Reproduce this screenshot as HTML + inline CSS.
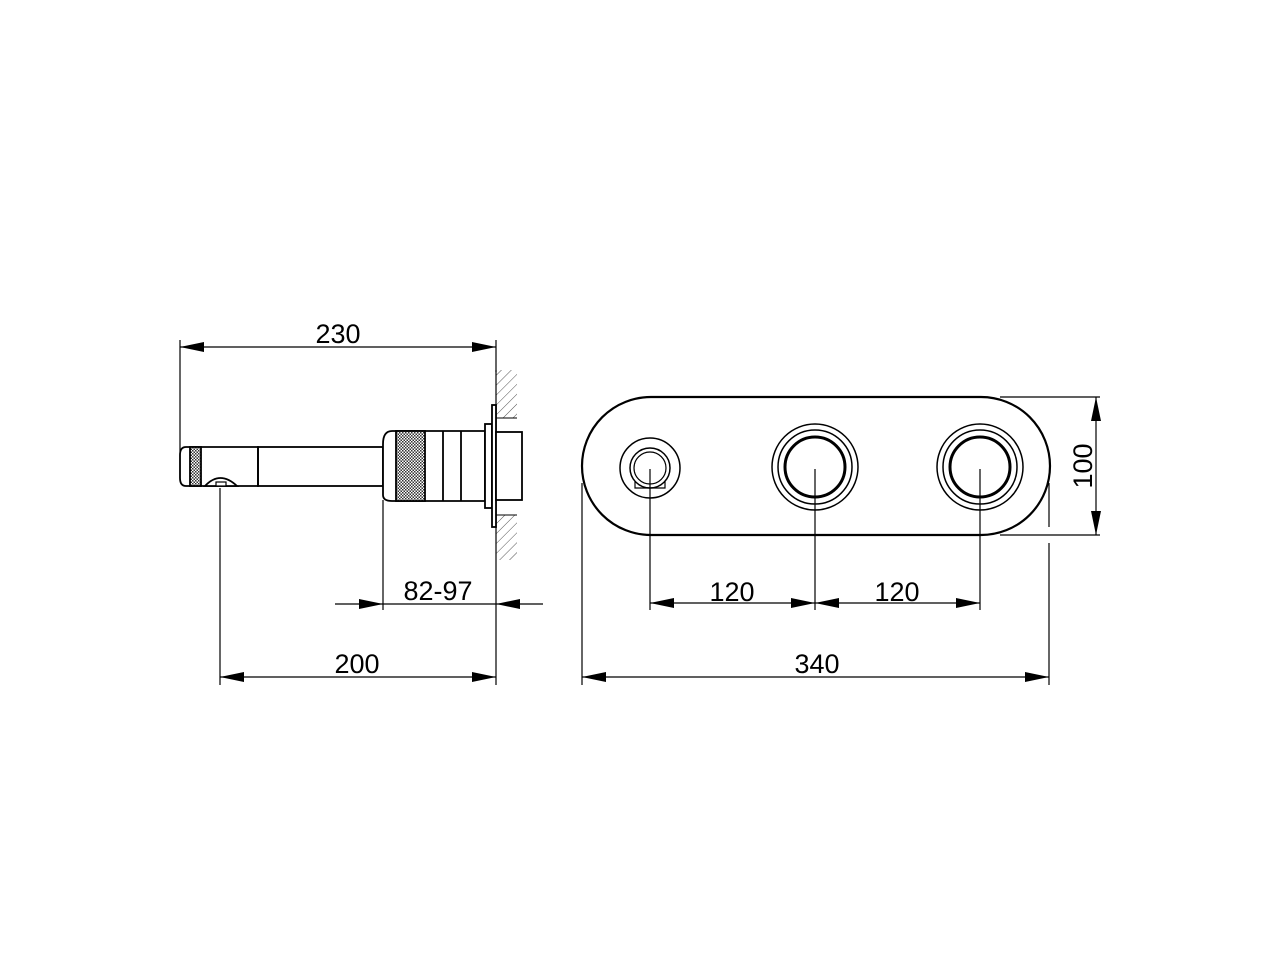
<!DOCTYPE html>
<html><head><style>body{margin:0;background:#fff}svg{display:block}</style></head><body>
<svg width="1280" height="960" viewBox="0 0 1280 960" xmlns="http://www.w3.org/2000/svg">
<defs>
<pattern id="knurl" width="3" height="3" patternUnits="userSpaceOnUse"><rect width="3" height="3" fill="#fff"/><rect width="1.5" height="1.5" fill="#333"/><rect x="1.5" y="1.5" width="1.5" height="1.5" fill="#333"/></pattern>
<pattern id="hatch" width="7" height="7" patternUnits="userSpaceOnUse" patternTransform="rotate(45)"><line x1="0" y1="0" x2="0" y2="7" stroke="#555" stroke-width="1"/></pattern>
</defs>
<g font-family="Liberation Sans, sans-serif" font-size="27" fill="#000">
<!-- left view -->
<g stroke="#000" fill="none">
<rect x="496" y="370" width="21" height="48" fill="url(#hatch)" stroke="none"/>
<rect x="496" y="515" width="21" height="45" fill="url(#hatch)" stroke="none"/>
<line x1="496" y1="370" x2="496" y2="560" stroke-width="1.2"/>
<line x1="496" y1="418" x2="517" y2="418" stroke-width="1"/>
<line x1="496" y1="515" x2="517" y2="515" stroke-width="1"/>
<g stroke-width="1.8">
<path d="M186,447 L258,447 L258,486 L186,486 Q180,486 180,478 L180,455 Q180,447 186,447Z"/>
<rect x="190" y="447" width="11" height="39" fill="url(#knurl)"/>
<path d="M205,486 Q220,470 237,486Z" fill="#fff"/>
<rect x="216" y="482" width="10" height="4" fill="#fff" stroke-width="1.2"/>
<rect x="258" y="447" width="125" height="39"/>
<path d="M383,444 L383,495 Q383,501 392,501 L485,501 L485,431 L392,431 Q383,431 383,444Z" fill="#fff"/>
<rect x="396" y="431" width="29" height="70" fill="url(#knurl)"/>
<line x1="443" y1="431" x2="443" y2="501"/>
<line x1="461" y1="431" x2="461" y2="501"/>
<rect x="485" y="424" width="7" height="84" fill="#fff"/>
<rect x="492" y="405" width="4" height="122" fill="#fff"/>
<rect x="496" y="432" width="26" height="68" fill="#fff"/>
</g>
<g stroke-width="1.2">
<line x1="180" y1="340" x2="180" y2="452"/>
<line x1="496" y1="340" x2="496" y2="372"/>
<line x1="180" y1="347" x2="496" y2="347"/>
<line x1="220" y1="488" x2="220" y2="685"/>
<line x1="383" y1="500" x2="383" y2="610"/>
<line x1="496" y1="560" x2="496" y2="685"/>
<line x1="335" y1="604" x2="543" y2="604"/>
<line x1="220" y1="677" x2="496" y2="677"/>
</g>
</g>
<g stroke="none" fill="#000">
<path d="M180,347 l24,-5 v10z"/><path d="M496,347 l-24,-5 v10z"/>
<path d="M383,604 l-24,-5 v10z"/><path d="M496,604 l24,-5 v10z"/>
<path d="M220,677 l24,-5 v10z"/><path d="M496,677 l-24,-5 v10z"/>
</g>
<text x="338" y="343" text-anchor="middle">230</text>
<text x="438" y="600" text-anchor="middle">82-97</text>
<text x="357" y="673" text-anchor="middle">200</text>
<!-- right view -->
<g stroke="#000" fill="none">
<rect x="582" y="397" width="468" height="138" rx="69" stroke-width="2.2"/>
<circle cx="650" cy="468" r="30" stroke-width="1.5"/>
<circle cx="650" cy="468" r="20" stroke-width="1.5"/>
<circle cx="650" cy="468" r="16" stroke-width="1.2"/>
<path d="M635,481 v7 h30 v-7" stroke-width="1.2"/>
<g stroke-width="1.5">
<circle cx="815" cy="467" r="43"/><circle cx="815" cy="467" r="37"/><circle cx="815" cy="467" r="30" stroke-width="3"/>
<circle cx="980" cy="467" r="43"/><circle cx="980" cy="467" r="37"/><circle cx="980" cy="467" r="30" stroke-width="3"/>
</g>
<g stroke-width="1.2">
<line x1="650" y1="469" x2="650" y2="610"/>
<line x1="815" y1="469" x2="815" y2="610"/>
<line x1="980" y1="469" x2="980" y2="610"/>
<line x1="582" y1="483" x2="582" y2="685"/>
<line x1="1049" y1="483" x2="1049" y2="527"/>
<line x1="1049" y1="543" x2="1049" y2="685"/>
<line x1="1000" y1="397" x2="1100" y2="397"/>
<line x1="1000" y1="535" x2="1100" y2="535"/>
<line x1="1096" y1="397" x2="1096" y2="535"/>
<line x1="650" y1="603" x2="980" y2="603"/>
<line x1="582" y1="677" x2="1049" y2="677"/>
</g>
</g>
<g stroke="none" fill="#000">
<path d="M650,603 l24,-5 v10z"/><path d="M815,603 l-24,-5 v10z"/><path d="M815,603 l24,-5 v10z"/><path d="M980,603 l-24,-5 v10z"/>
<path d="M582,677 l24,-5 v10z"/><path d="M1049,677 l-24,-5 v10z"/>
<path d="M1096,397 l-5,24 h10z"/><path d="M1096,535 l-5,-24 h10z"/>
</g>
<text x="732" y="601" text-anchor="middle">120</text>
<text x="897" y="601" text-anchor="middle">120</text>
<text x="817" y="673" text-anchor="middle">340</text>
<text transform="translate(1092,466) rotate(-90)" text-anchor="middle">100</text>
</g>
</svg>
</body></html>
